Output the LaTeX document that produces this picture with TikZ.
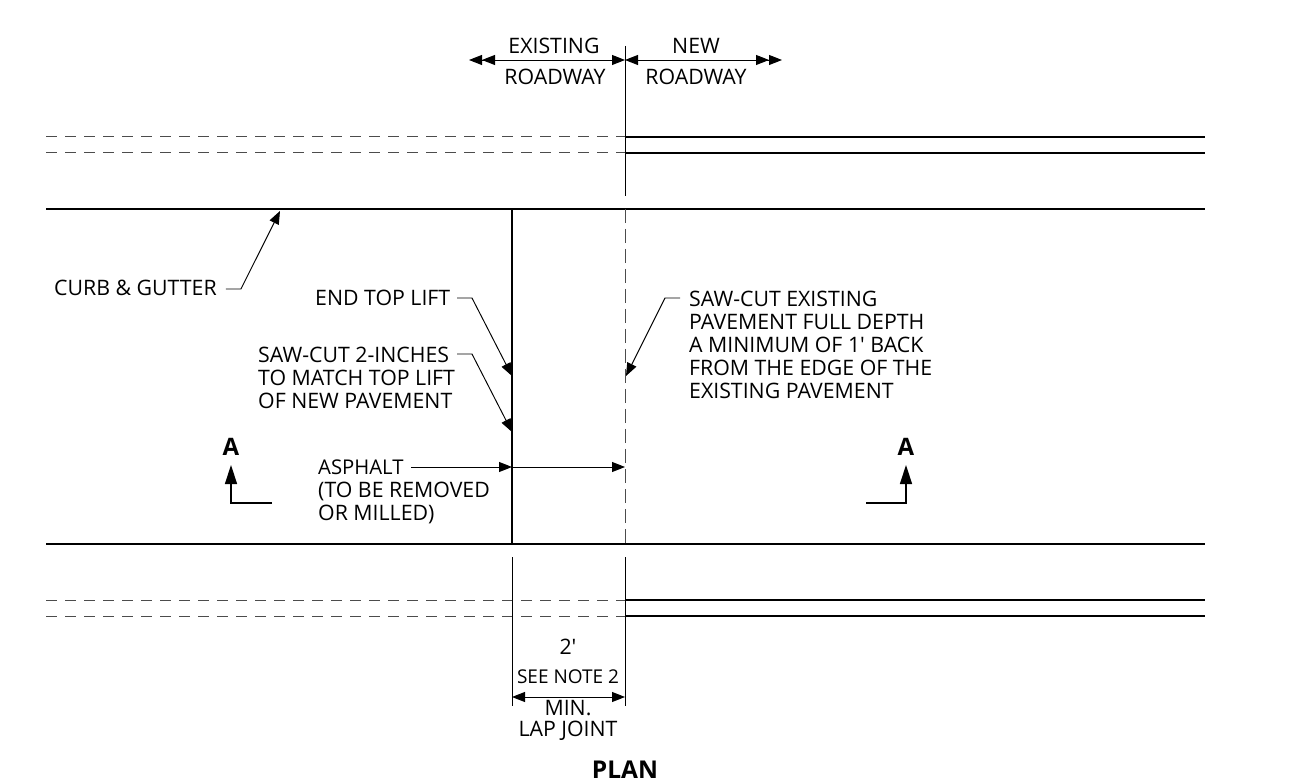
\documentclass[tikz,border=0pt]{standalone}
\usepackage{fontspec}
\setmainfont[Ligatures=TeXOff]{Open Sans}
\usetikzlibrary{arrows.meta}
\tikzstyle{label} = [inner sep=0pt,font=\fontsize{21.3}{23}\selectfont,align=left,text=black]
\tikzstyle{title} = [inner sep=0pt,font=\fontsize{24.5}{28}\selectfont\bfseries]
\tikzstyle{cut} = [inner sep=0pt,font=\fontsize{24}{28}\selectfont\bfseries]
\tikzstyle{road} = [line width=2pt]
\tikzstyle{hidden} = [line width=1pt,dash pattern=on 11pt off 8pt,black!70]
\tikzstyle{thin} = [line width=0.95pt]
\tikzstyle{arrow} = [line width=0.95pt,-{Triangle[length=13pt,width=10pt]}]
\tikzstyle{bothways} = [line width=0.95pt,{Triangle[length=13pt,width=10pt]}-{Triangle[length=13pt,width=10pt]}]
\tikzstyle{outward} = [line width=0.95pt,{Triangle[length=13pt,width=10pt]}-{Triangle[length=13pt,width=10pt]Triangle[length=13pt,width=10pt]}]
\tikzstyle{cutarrow} = [line width=1.4pt,-{Triangle[length=19pt,width=12pt]}]
\begin{document}
\begin{tikzpicture}[x=1pt,y=-1pt]
\useasboundingbox (0,0) rectangle (1315,783);

% upper curb lines
\draw [hidden] (46,137) -- (625,137);
\draw [hidden] (46,153) -- (625,153);
\draw [road] (625,137) -- (1205,137);
\draw [road] (625,153) -- (1205,153);
% lower curb lines
\draw [hidden] (46,600) -- (625,600);
\draw [hidden] (46,616) -- (625,616);
\draw [road] (625,600) -- (1205,600);
\draw [road] (625,616) -- (1205,616);
% pavement edges
\draw [road] (46,209) -- (1205,209);
\draw [road] (46,544) -- (1205,544);
\draw [line width=2.7pt] (512,209) -- (512,544);
\draw [hidden,dash pattern=on 14pt off 6pt] (625.5,209) -- (625.5,544);
% match lines
\draw [thin] (625,46) -- (625,196);
\draw [thin] (512,557) -- (512,706);
\draw [thin] (625,557) -- (625,706);

\coordinate (midtop) at (625,60);
\coordinate (farleft) at (469,60);
\coordinate (farright) at (782,60);
\node (existing) [label] at (554,46) {EXISTING};
\node (roadwayl) [label] at (555,77) {ROADWAY};
\node (new) [label] at (696,46) {NEW};
\node (roadwayr) [label] at (696,77) {ROADWAY};
\draw [outward] (midtop) -- (farleft);
\draw [outward] (midtop) -- (farright);

\node (curb) [label,anchor=west] at (54,288) {CURB \& GUTTER};
\coordinate (curbhit) at (280,211);
\draw [arrow] (curb.east) ++(9,1) -- ++(15,0) -- (curbhit);

\node (toplift) [label,anchor=west] at (315,298) {END TOP LIFT};
\coordinate (topliftend) at (512,376);
\draw [arrow] (457,298) -- (472,298) -- (topliftend);

\node (sawtwo) [label,anchor=north west] at (258,347) {SAW-CUT 2-INCHES\\TO MATCH TOP LIFT\\OF NEW PAVEMENT};
\coordinate (sawtwoend) at (512,432);
\draw [arrow] (457,354) -- (472,354) -- (sawtwoend);

\node (asphalt) [label,anchor=north west] at (318,460) {{\fontsize{20.3}{23}\selectfont ASPHALT}\\(TO BE REMOVED\\OR MILLED)};
\coordinate (edgea) at (512,467);
\coordinate (edgeb) at (625,467);
\draw [arrow] (411,467) -- (edgea);
\draw [arrow] (edgea) -- (edgeb);

\node (sawfull) [label,anchor=north west] at (689,291) {SAW-CUT EXISTING\\PAVEMENT FULL DEPTH\\A MINIMUM OF 1' BACK\\FROM THE EDGE OF THE\\EXISTING PAVEMENT};
\coordinate (sawfullend) at (626,376);
\draw [arrow] (680,298) -- (665,298) -- (sawfullend);

\node (cutl) [cut] at (231,447) {A};
\node (cutr) [cut] at (906,447) {A};
\draw [cutarrow] (272,503) -- (231,503) -- (231,465);
\draw [cutarrow] (866,503) -- (906,503) -- (906,465);

\coordinate (lapl) at (512,697);
\coordinate (lapr) at (625,697);
\draw [bothways] (lapl) -- (lapr);
\node (two) [label] at (568,647) {2'};
\node (note) [label,font=\fontsize{19}{22}\selectfont] at (568,677) {SEE NOTE 2};
\node (min) [label] at (568,708) {MIN.};
\node (lap) [label] at (568,731) {LAP JOINT};
\node (plan) [title] at (625,770) {PLAN};
\end{tikzpicture}
\end{document}
